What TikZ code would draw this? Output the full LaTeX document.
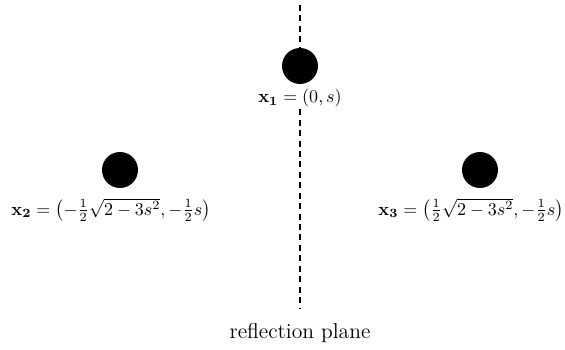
\documentclass[tikz,border=0pt]{standalone}
\begin{document}
\begin{tikzpicture}[x=0.556pt,y=-0.556pt,
  atom/.style={circle,fill=black,inner sep=0pt,minimum size=20pt},
  lab/.style={inner sep=0pt},
  plane/.style={line width=0.9pt,dash pattern=on 3.3pt off 2.5pt}]
\useasboundingbox (0,0) rectangle (565,350);
\coordinate (top) at (300,5);
\coordinate (bot) at (300,308);
\draw[plane] (top) -- (bot);
\node[atom] (a1) at (300,66) {};
\node[atom] (a2) at (120,170) {};
\node[atom] (a3) at (480,170) {};
\node[lab,fill=white,inner sep=1pt] (l1) at (300,98) {$\mathbf{x_1}=(0,s)$};
\node[lab] (l2) at (111,210) {$\mathbf{x_2}=\left(-\frac12\sqrt{2-3s^2},-\frac12 s\right)$};
\node[lab] (l3) at (471,210) {$\mathbf{x_3}=\left(\frac12\sqrt{2-3s^2},-\frac12 s\right)$};
\node[lab] (rp) at (300,333) {\large reflection plane};
\end{tikzpicture}
\end{document}
